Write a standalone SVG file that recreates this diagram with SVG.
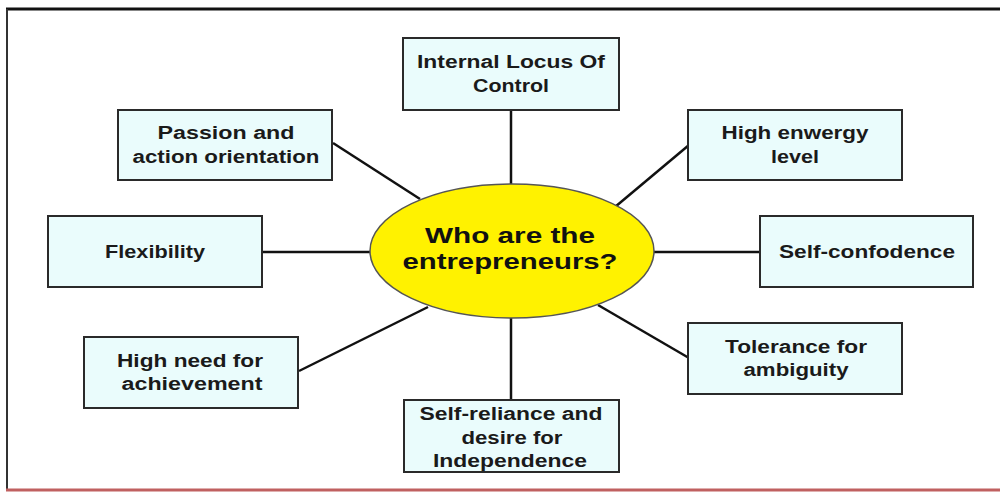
<svg xmlns="http://www.w3.org/2000/svg" width="1000" height="493" viewBox="0 0 1000 493">
<style>
.box{fill:#eafcfc;stroke:#2a2a2a;stroke-width:2}
.t{font-family:"Liberation Sans",Arial,sans-serif;font-weight:bold;font-size:18px;fill:#1a1a1a}
.c{font-family:"Liberation Sans",Arial,sans-serif;font-weight:bold;font-size:22px;fill:#111}
.ln{stroke:#111;stroke-width:2.5;fill:none}
</style>
<rect x="0" y="0" width="1000" height="493" fill="#ffffff"/>
<g id="frame">
<line x1="6" y1="9" x2="1000" y2="9" stroke="#111" stroke-width="3"/>
<line x1="7" y1="9" x2="7" y2="490" stroke="#333" stroke-width="2"/>
<line x1="6" y1="490" x2="1000" y2="490" stroke="#c06060" stroke-width="3"/>
</g>
<g id="connectors">
<line class="ln" x1="511" y1="110" x2="511" y2="185"/>
<line class="ln" x1="333" y1="143" x2="420" y2="199"/>
<line class="ln" x1="689" y1="145" x2="615" y2="207"/>
<line class="ln" x1="262" y1="252" x2="370" y2="252"/>
<line class="ln" x1="654" y1="252" x2="759" y2="252"/>
<line class="ln" x1="299" y1="371" x2="428" y2="307"/>
<line class="ln" x1="689" y1="358" x2="598" y2="305"/>
<line class="ln" x1="511" y1="318" x2="511" y2="400"/>
</g>
<g id="center">
<ellipse cx="512" cy="251" rx="142" ry="67" fill="#fff200" stroke="#555" stroke-width="1.5"/>
<text class="c" x="510" y="243" text-anchor="middle" textLength="170" lengthAdjust="spacingAndGlyphs">Who are the</text>
<text class="c" x="510" y="269" text-anchor="middle" textLength="215" lengthAdjust="spacingAndGlyphs">entrepreneurs?</text>
</g>
<g id="internal-locus">
<rect class="box" x="403" y="38" width="216" height="72"/>
<text class="t" x="511" y="68" text-anchor="middle" textLength="188" lengthAdjust="spacingAndGlyphs">Internal Locus Of</text>
<text class="t" x="511" y="92" text-anchor="middle" textLength="76" lengthAdjust="spacingAndGlyphs">Control</text>
</g>
<g id="passion">
<rect class="box" x="118" y="110" width="214" height="70"/>
<text class="t" x="226" y="139" text-anchor="middle" textLength="137" lengthAdjust="spacingAndGlyphs">Passion and</text>
<text class="t" x="226" y="163" text-anchor="middle" textLength="187" lengthAdjust="spacingAndGlyphs">action orientation</text>
</g>
<g id="high-energy">
<rect class="box" x="688" y="110" width="214" height="70"/>
<text class="t" x="795" y="139" text-anchor="middle" textLength="147" lengthAdjust="spacingAndGlyphs">High enwergy</text>
<text class="t" x="795" y="163" text-anchor="middle" textLength="48" lengthAdjust="spacingAndGlyphs">level</text>
</g>
<g id="flexibility">
<rect class="box" x="48" y="216" width="214" height="71"/>
<text class="t" x="155" y="258" text-anchor="middle" textLength="100" lengthAdjust="spacingAndGlyphs">Flexibility</text>
</g>
<g id="self-confidence">
<rect class="box" x="760" y="216" width="213" height="71"/>
<text class="t" x="867" y="258" text-anchor="middle" textLength="176" lengthAdjust="spacingAndGlyphs">Self-confodence</text>
</g>
<g id="high-need">
<rect class="box" x="84" y="337" width="214" height="71"/>
<text class="t" x="190" y="367" text-anchor="middle" textLength="146" lengthAdjust="spacingAndGlyphs">High need for</text>
<text class="t" x="192" y="390" text-anchor="middle" textLength="141" lengthAdjust="spacingAndGlyphs">achievement</text>
</g>
<g id="tolerance">
<rect class="box" x="688" y="323" width="214" height="71"/>
<text class="t" x="796" y="353" text-anchor="middle" textLength="142" lengthAdjust="spacingAndGlyphs">Tolerance for</text>
<text class="t" x="796" y="376" text-anchor="middle" textLength="105" lengthAdjust="spacingAndGlyphs">ambiguity</text>
</g>
<g id="self-reliance">
<rect class="box" x="404" y="400" width="215" height="72"/>
<text class="t" x="511" y="420" text-anchor="middle" textLength="183" lengthAdjust="spacingAndGlyphs">Self-reliance and</text>
<text class="t" x="512" y="444" text-anchor="middle" textLength="101" lengthAdjust="spacingAndGlyphs">desire for</text>
<text class="t" x="510" y="467" text-anchor="middle" textLength="154" lengthAdjust="spacingAndGlyphs">Independence</text>
</g>
</svg>
